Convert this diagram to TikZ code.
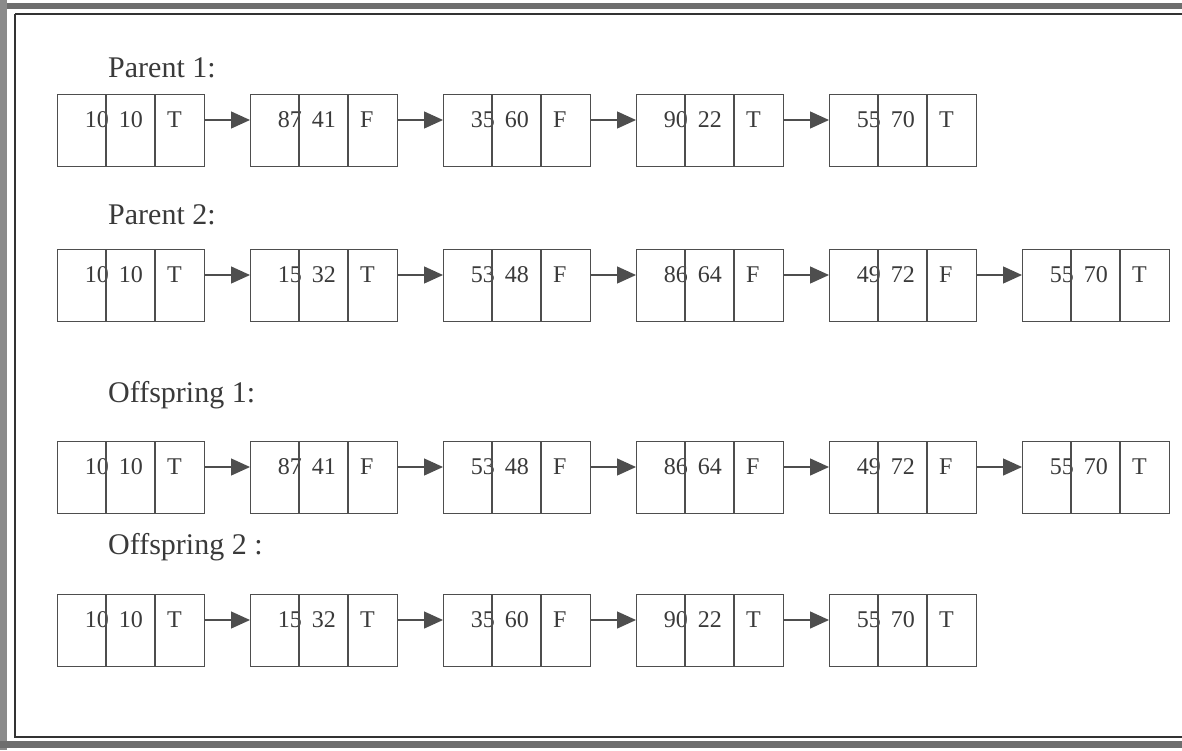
\documentclass[tikz,border=0pt]{standalone}
\usepackage{fontspec}
\setmainfont{Liberation Serif}
\usetikzlibrary{arrows.meta}
\definecolor{ink}{HTML}{3A3A3A}
\definecolor{lineink}{HTML}{4E4E4E}
\definecolor{bandgray}{HTML}{6E6E6E}
\tikzset{
 cellbox/.style={draw=lineink, line width=1.2pt, minimum width=147pt, minimum height=72pt, inner sep=0pt, anchor=north west},
 celltext/.style={font=\fontsize{24}{24}\selectfont, text=ink, inner sep=0pt},
 rowlabel/.style={font=\fontsize{30}{30}\selectfont, text=ink, anchor=west, inner sep=0pt},
 link/.style={draw=lineink, line width=1.3pt, -{Triangle[length=19pt,width=17pt]}},
 divider/.style={draw=lineink, line width=1.2pt},
 frameline/.style={draw=black!80, line width=1.8pt},
}
\newcommand\chain[3]{%
 \foreach \a/\b/\c [count=\i] in {#3} {
  \pgfmathsetmacro\xl{57+(\i-1)*193}
  \pgfmathtruncatemacro\j{\i-1}
  \node[cellbox] (r#1b\i) at (\xl,#2) {};
  \node[celltext, anchor=east] (r#1b\i-a) at ([xshift=52pt,yshift=-26pt]r#1b\i.north west) {\a};
  \node[celltext, anchor=east] (r#1b\i-b) at ([xshift=86pt,yshift=-26pt]r#1b\i.north west) {\b};
  \node[celltext, anchor=west] (r#1b\i-c) at ([xshift=110pt,yshift=-26pt]r#1b\i.north west) {\c};
  \draw[divider] ([xshift=49pt]r#1b\i.north west) -- ([xshift=49pt]r#1b\i.south west);
  \draw[divider] ([xshift=98pt]r#1b\i.north west) -- ([xshift=98pt]r#1b\i.south west);
  \ifnum\i>1
   \draw[link] ([yshift=-26pt]r#1b\j.north east) -- ([yshift=-26pt]r#1b\i.north west);
  \fi
 }%
}
\begin{document}
\begin{tikzpicture}[x=1pt,y=-1pt]
\useasboundingbox (0,0) rectangle (1182,750);
\fill[white] (0,0) rectangle (1182,750);
% page frame
\fill[bandgray] (0,3) rectangle (1182,9);
\fill[bandgray!80] (0,0) rectangle (7,750);
\fill[bandgray] (0,741) rectangle (1182,748);
\draw[frameline] (15,14) -- (1182,14);
\draw[frameline] (15,14) -- (15,737) -- (1182,737);
% labels
\node[rowlabel] (lab1) at (108,68) {Parent 1:};
\node[rowlabel] (lab2) at (108,215) {Parent 2:};
\node[rowlabel] (lab3) at (108,395) {Offspring 1:};
\node[rowlabel] (lab4) at (108,547) {Offspring 2 :};
% chains
\chain{1}{94}{10/10/T,87/41/F,35/60/F,90/22/T,55/70/T}
\chain{2}{249}{10/10/T,15/32/T,53/48/F,86/64/F,49/72/F,55/70/T}
\chain{3}{441}{10/10/T,87/41/F,53/48/F,86/64/F,49/72/F,55/70/T}
\chain{4}{594}{10/10/T,15/32/T,35/60/F,90/22/T,55/70/T}
\end{tikzpicture}
\end{document}
